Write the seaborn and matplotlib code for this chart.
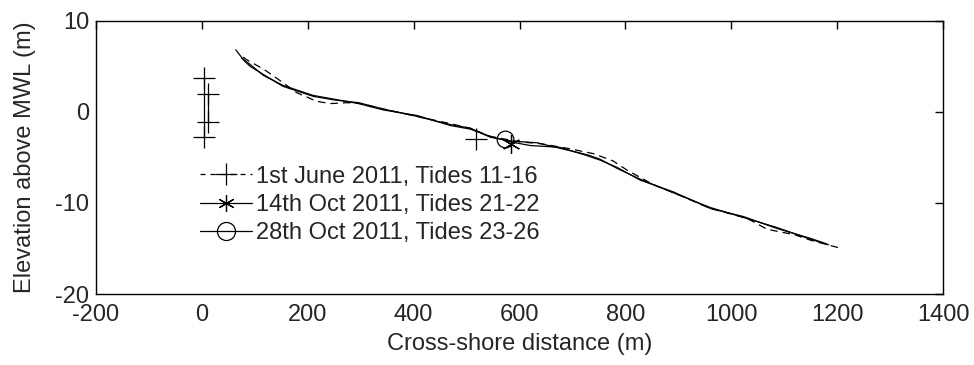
import numpy as np
import pandas as pd
import matplotlib
matplotlib.use("Agg")
import matplotlib.pyplot as plt
import seaborn as sns
from matplotlib.lines import Line2D

sns.set_style("white")
plt.rcParams['font.family'] = ['Liberation Sans', 'DejaVu Sans']
plt.rcParams['axes.unicode_minus'] = False

# Profile data (cross-shore distance, elevation)
june_x = [78, 85, 116, 141, 179, 217, 242, 274, 300, 343, 406, 469, 507, 545, 600, 640, 690, 740, 777, 803, 853, 900, 960, 1030, 1068, 1120, 1150, 1208]
june_y = [6.0, 5.7, 4.7, 3.7, 2.1, 1.15, 0.9, 1.0, 0.9, 0.3, -0.5, -1.3, -1.8, -2.7, -3.3, -3.5, -4.0, -4.6, -5.4, -6.4, -8.0, -9.1, -10.6, -11.7, -12.9, -13.5, -14.1, -15.0]

oct14_x = [64, 80, 91, 116, 153, 210, 250, 296, 343, 406, 469, 507, 545, 583, 633, 676, 727, 752, 784, 828, 891, 960, 1023, 1086, 1150, 1184]
oct14_y = [6.8, 5.6, 5.0, 4.1, 2.8, 1.7, 1.3, 1.0, 0.3, -0.5, -1.4, -1.8, -2.8, -3.2, -3.4, -4.0, -4.7, -5.2, -6.2, -7.4, -8.9, -10.5, -11.6, -12.7, -14.0, -14.6]

oct28_x = [75, 91, 116, 153, 210, 296, 343, 406, 469, 507, 545, 583, 620, 676, 727, 752, 784, 828, 891, 960, 1023, 1086, 1150, 1180]
oct28_y = [5.9, 5.2, 4.0, 2.9, 1.8, 0.9, 0.2, -0.4, -1.5, -1.9, -2.7, -3.3, -3.7, -3.9, -4.8, -5.3, -6.1, -7.5, -8.8, -10.6, -11.5, -12.8, -13.9, -14.5]

# Instrument / range bars near x=0
bar1_x = [4, 4]
bar1_y = [3.7, -2.8]
bar2_x = [11, 11]
bar2_y = [2.0, -1.1]

# Single marker points
june_mark_x, june_mark_y = [517], [-3.0]
oct14_mark_x, oct14_mark_y = [583], [-3.5]
oct28_mark_x, oct28_mark_y = [573], [-2.95]

labels = ["1st June 2011, Tides 11-16", "14th Oct 2011, Tides 21-22", "28th Oct 2011, Tides 23-26"]

fig = plt.figure(figsize=(9.74, 3.65), dpi=100)
ax = fig.add_axes([0.0986, 0.1945, 0.8696, 0.7488])

lw = 0.9
mk = dict(color='k', mec='k', mew=0.9)
sns.lineplot(x=june_x, y=june_y, ax=ax, color='k', lw=lw, linestyle=(0, (6, 4)), sort=False, estimator=None)
sns.lineplot(x=oct14_x, y=oct14_y, ax=ax, color='k', lw=lw, sort=False, estimator=None)
sns.lineplot(x=oct28_x, y=oct28_y, ax=ax, color='k', lw=lw, sort=False, estimator=None)

sns.lineplot(x=bar1_x, y=bar1_y, ax=ax, lw=lw, marker='+', markersize=16, sort=False, estimator=None, **mk)
sns.lineplot(x=bar2_x, y=bar2_y, ax=ax, lw=lw, marker='+', markersize=16, sort=False, estimator=None, **mk)

sns.lineplot(x=june_mark_x, y=june_mark_y, ax=ax, linestyle='', marker='+', markersize=16, **mk)
sns.lineplot(x=oct14_mark_x, y=oct14_mark_y, ax=ax, linestyle='', marker=(6, 2, 0), markersize=13, **mk)
sns.lineplot(x=oct28_mark_x, y=oct28_mark_y, ax=ax, linestyle='', marker='o', markersize=12, mfc='none', **mk)

ax.set_xlim(-200, 1400)
ax.set_ylim(-20, 10)
ax.set_xticks(np.arange(-200, 1401, 200))
ax.set_yticks([-20, -10, 0, 10])
ax.set_xlabel("Cross-shore distance (m)", fontsize=17, labelpad=5)
ax.set_ylabel("Elevation above MWL (m)", fontsize=17, labelpad=14)
ax.tick_params(axis='both', direction='in', length=6, width=1, labelsize=17, top=True, right=True, color='k')
ax.tick_params(axis='x', pad=7)
ax.tick_params(axis='y', pad=5)
for s in ax.spines.values():
    s.set_color('k')
    s.set_linewidth(1)

handles = [
    Line2D([], [], color='k', lw=lw, linestyle=(0, (4, 4)), marker='+', markersize=16, mew=0.9),
    Line2D([], [], color='k', lw=lw, linestyle='-', marker=(6, 2, 0), markersize=12, mew=0.9),
    Line2D([], [], color='k', lw=lw, linestyle='-', marker='o', markersize=13, mew=0.9, mfc='none'),
]
leg = ax.legend(handles, labels, loc='upper left', bbox_to_anchor=(0.123, 0.47), frameon=False,
                fontsize=17, handlelength=2.2, handletextpad=0.17, labelspacing=0.27, borderpad=0,
                borderaxespad=0)

fig.savefig("out.png", dpi=100)
